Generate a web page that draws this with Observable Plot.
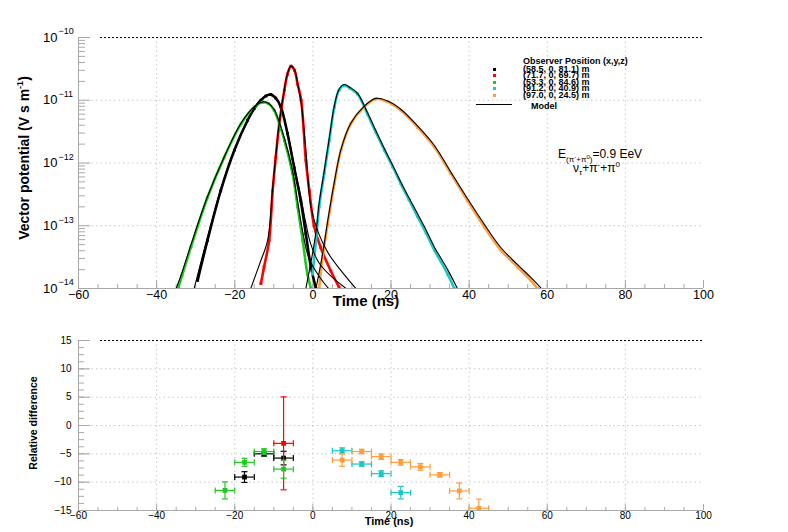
<!DOCTYPE html>
<html><head><meta charset="utf-8">
<script src="https://cdn.jsdelivr.net/npm/d3@7"></script>
<script src="https://cdn.jsdelivr.net/npm/@observablehq/plot@0.6"></script>
<style>
body{margin:0;background:#fff;font-family:"Liberation Sans",Arial,sans-serif;}
#wrap{position:relative;width:788px;height:532px;overflow:hidden;background:#fff;}
#wrap svg{position:absolute;left:0;}
.t{position:absolute;white-space:nowrap;color:#000;line-height:1;}
.b{font-weight:bold;}
.sq{position:absolute;width:3px;height:3px;}
</style></head><body><div id="wrap"></div>
<script>
// ---------- data: vector potential (time in ns, value in V s m^-1) ----------
const blackT = [-29.5,-27.0,-23.6,-20.1,-16.7,-15.0,-13.3,-12.0,-10.75,-9.5,-8.2,-6.5,-4.8,-3.1,-1.8,-0.5,0.8];
const blackV = [1.35e-14,5.8e-14,3.6e-13,1.6e-12,4.8e-12,7.4e-12,1.0e-11,1.17e-11,1.23e-11,1.08e-11,7.8e-12,2.95e-12,8.5e-13,2.5e-13,7.4e-14,2.2e-14,1.0e-14];
const redT = [-13.3,-12.5,-11.2,-10.3,-9.5,-8.6,-7.3,-6.5,-5.6,-4.7,-3.9,-3.0,-1.8,-0.9,0.3,2.0,4.6,6.7];
const redV = [1.2e-14,2.2e-14,5.8e-14,3.6e-13,1.23e-12,4.2e-12,1.45e-11,2.6e-11,3.5e-11,3.0e-11,1.8e-11,1.0e-11,1.1e-12,3.6e-13,1.0e-13,4.5e-14,1.9e-14,1.05e-14];
const greenT = [-34.5,-33.5,-31.2,-27.0,-22.7,-18.4,-15.0,-12.9,-11.3,-9.9,-7.3,-5.2,-3.9,-2.6,-1.4,-0.5];
const greenV = [1.0e-14,1.6e-14,4.6e-14,2.8e-13,1.23e-12,4.2e-12,7.8e-12,9.3e-12,8.8e-12,6.9e-12,2.3e-12,6.8e-13,2.0e-13,5.8e-14,1.7e-14,1.0e-14];
const cyanT = [-0.1,0.8,1.6,2.9,4.2,5.5,6.7,8.0,9.5,11.4,14.0,16.0,18.3,20.4,22.5,24.6,26.8,29.0,31.1,34.5,36.2];
const cyanV = [1.7e-14,5.8e-14,2.0e-13,6.8e-13,2.3e-12,7.8e-12,1.45e-11,1.73e-11,1.55e-11,1.26e-11,6.0e-12,3.2e-12,1.6e-12,8.8e-13,4.7e-13,2.6e-13,1.4e-13,7.6e-14,4.1e-14,1.7e-14,1.0e-14];
const orangeT = [1.6,2.5,3.8,5.5,7.2,9.7,13.1,16.1,19.0,22.5,26.8,31.1,35.3,39.6,43.9,48.1,52.4,55.8,57.5];
const orangeV = [1.0e-14,3.2e-14,1.07e-13,4.7e-13,1.6e-12,4.2e-12,7.8e-12,1.05e-11,9.5e-12,6.9e-12,3.7e-12,1.8e-12,6.8e-13,2.5e-13,9.5e-14,4.1e-14,2.2e-14,1.35e-14,1.0e-14];

// ---------- model curves ----------
const blackModelT = [-30.4,-27.0,-23.6,-20.1,-16.7,-15.0,-13.3,-12.0,-10.75,-9.5,-8.2,-6.5,-4.8,-3.1,-1.8,-0.5,1.5,4.5,8.5];
const blackModelV = [1.0e-14,6.5e-14,3.8e-13,1.65e-12,4.9e-12,7.5e-12,1.02e-11,1.19e-11,1.25e-11,1.1e-11,8.0e-12,3.1e-12,9.2e-13,2.9e-13,1.1e-13,5.0e-14,2.6e-14,1.6e-14,1.0e-14];
const redModelT = [-15.9,-13.5,-11.6,-10.3,-9.5,-8.6,-7.3,-6.5,-5.6,-4.7,-3.9,-3.0,-1.8,-0.5,1.5,4.0,7.0,11.0];
const redModelV = [1.0e-14,2.6e-14,5.8e-14,4.0e-13,1.3e-12,4.4e-12,1.5e-11,2.65e-11,3.5e-11,3.05e-11,1.85e-11,9.0e-12,1.6e-12,2.0e-13,7.5e-14,3.6e-14,2.0e-14,1.0e-14];
const greenModelT = [-35.0,-33.5,-31.2,-27.0,-22.7,-18.4,-15.0,-12.9,-11.3,-9.9,-7.3,-5.2,-3.9,-2.6,-1.0,1.5,4.0];
const greenModelV = [1.0e-14,1.8e-14,5.0e-14,2.9e-13,1.25e-12,4.3e-12,7.9e-12,9.4e-12,8.9e-12,7.1e-12,2.5e-12,7.5e-13,2.4e-13,8.0e-14,3.0e-14,1.6e-14,1.0e-14];
const cyanModelT = [-1.8,-0.5,0.8,1.6,2.9,4.2,5.5,6.7,8.0,9.5,11.4,14.0,16.0,18.3,20.4,22.5,24.6,26.8,29.0,31.1,34.5,37.0];
const cyanModelV = [1.0e-14,2.6e-14,8.0e-14,2.3e-13,7.5e-13,2.5e-12,8.2e-12,1.5e-11,1.78e-11,1.6e-11,1.3e-11,6.3e-12,3.4e-12,1.7e-12,9.3e-13,5.0e-13,2.8e-13,1.55e-13,8.5e-14,4.6e-14,2.0e-14,1.0e-14];
const orangeModelT = [0.8,2.5,3.8,5.5,7.2,9.7,13.1,16.1,19.0,22.5,26.8,31.1,35.3,39.6,43.9,48.1,52.4,55.8,58.5];
const orangeModelV = [1.0e-14,3.6e-14,1.2e-13,5.0e-13,1.65e-12,4.3e-12,8.0e-12,1.07e-11,9.8e-12,7.2e-12,3.9e-12,1.9e-12,7.2e-13,2.7e-13,1.05e-13,4.5e-14,2.4e-14,1.5e-14,1.0e-14];

// ---------- relative difference ----------
const binHalfWidth = 2.5;
const resBlackT = [-17.5,-12.5,-7.5];
const resBlackY = [-9.1,-5.0,-5.75];
const resBlackErr = [0.95,0.4,1.2];
const resRedT = [-7.5];
const resRedY = [-3.15];
const resRedErr = [8.2];
const resGreenT = [-22.5,-17.5,-12.5,-7.5];
const resGreenY = [-11.45,-6.5,-4.6,-7.7];
const resGreenErr = [1.5,0.7,0.5,1.6];
const resCyanT = [7.5,12.5,17.5,22.5];
const resCyanY = [-4.45,-6.8,-8.5,-11.85];
const resCyanErr = [0.5,0.4,0.5,1.1];
const resOrangeT = [7.5,12.5,17.5,22.5,27.5,32.5,37.5,42.5];
const resOrangeY = [-6.1,-4.6,-5.5,-6.5,-7.3,-8.7,-11.55,-14.6];
const resOrangeErr = [1.1,0.4,0.5,0.5,0.6,0.4,1.4,1.6];

// ---------- ticks ----------
const xMajor = [-60,-40,-20,0,20,40,60,80,100];
const xGrid = [-40,-20,0,20,40,60,80];
const xMinor = d3.range(-60,101,5);
const yDecades = [1e-14,1e-13,1e-12,1e-11,1e-10];
const yGrid = [1e-13,1e-12,1e-11];
const yMinor = [1e-14,1e-13,1e-12,1e-11].flatMap(d => [2,3,4,5,6,7,8,9].map(k => k*d));
const rMajor = [-15,-10,-5,0,5,10,15];
const rGrid = [-10,-5,0,5,10];
const rMinor = d3.range(-15,15.01,1.25);

const colors = {black:"#000000", red:"#ff0000", green:"#1fc81f", cyan:"#1cc6c6", orange:"#ff9d3c"};
const series = [
  ["black", blackT, blackV, blackModelT, blackModelV],
  ["red", redT, redV, redModelT, redModelV],
  ["green", greenT, greenV, greenModelT, greenModelV],
  ["cyan", cyanT, cyanV, cyanModelT, cyanModelV],
  ["orange", orangeT, orangeV, orangeModelT, orangeModelV]
];
const residuals = [
  ["black", resBlackT, resBlackY, resBlackErr],
  ["red", resRedT, resRedY, resRedErr],
  ["green", resGreenT, resGreenY, resGreenErr],
  ["cyan", resCyanT, resCyanY, resCyanErr],
  ["orange", resOrangeT, resOrangeY, resOrangeErr]
];
const zipTV = (T, V) => T.map((t, i) => ({t, v: V[i]}));
const fmt = d => d < 0 ? "\u2212" + (-d) : String(d);
const AX = "#a8a8a8", GR = "#c8c8c8";
const FONT = "Liberation Sans, Arial, sans-serif";

const W = 788, ML = 78, MR = 85;
const topH = 320, topMT = 37, topMB = 32, topPH = topH - topMT - topMB;

const topMarks = [
  Plot.ruleX(xGrid, {stroke: GR, strokeDasharray: "1.5,3"}),
  Plot.ruleY(yGrid, {stroke: GR, strokeDasharray: "1.5,3"}),
  Plot.ruleY([1e-10], {stroke: "#000", strokeDasharray: "2,2", insetLeft: 22}),
  Plot.ruleX([-60], {stroke: AX}),
  Plot.ruleY([1e-14], {stroke: AX}),
  Plot.tickY(yDecades, {stroke: AX, insetRight: (W - ML - MR) - 12}),
  Plot.tickY(yMinor, {stroke: AX, insetRight: (W - ML - MR) - 7}),
  Plot.tickX(xMajor, {stroke: AX, insetTop: topPH - 8}),
  Plot.tickX(xMinor, {stroke: AX, insetTop: topPH - 4}),
  Plot.text(yDecades, {y: d => d, frameAnchor: "left", dx: -21, text: () => "10", textAnchor: "end", fontSize: 13}),
  Plot.text(yDecades, {y: d => d, frameAnchor: "left", dx: -20, dy: -6, text: d => "\u2212" + (-Math.round(Math.log10(d))), textAnchor: "start", fontSize: 9}),
  Plot.text(xMajor, {x: d => d, frameAnchor: "bottom", dy: 10, text: fmt, fontSize: 12.5})
];
for (const [c, T, V] of series) {
  const rows = zipTV(T, V);
  topMarks.push(Plot.line(rows, {x: "t", y: "v", stroke: colors[c], strokeWidth: 2.6, curve: "catmull-rom", clip: true}));
  topMarks.push(Plot.dot(rows, {x: "t", y: "v", fill: colors[c], symbol: "square", r: 1.6, clip: true}));
}
for (const [c, , , MT, MV] of series) {
  topMarks.push(Plot.line(zipTV(MT, MV), {x: "t", y: "v", stroke: "#000", strokeWidth: 1.1, curve: "catmull-rom", clip: true}));
}

const topPlot = Plot.plot({
  width: W, height: topH, marginTop: topMT, marginBottom: topMB, marginLeft: ML, marginRight: MR,
  x: {domain: [-60, 100], axis: null},
  y: {type: "log", domain: [1e-14, 1e-10], axis: null},
  style: {fontFamily: FONT, background: "transparent", overflow: "visible"},
  marks: topMarks
});
topPlot.style.top = "0px";

// ---------- bottom panel ----------
const botH = 212, botMT = 20, botMB = 22, botPH = botH - botMT - botMB;
const vbar = {draw(ctx, size){ const r = Math.sqrt(size / Math.PI); ctx.moveTo(0, -r); ctx.lineTo(0, r); }};
const hbar = {draw(ctx, size){ const r = Math.sqrt(size / Math.PI); ctx.moveTo(-r, 0); ctx.lineTo(r, 0); }};
const botMarks = [
  Plot.ruleX(xGrid, {stroke: GR, strokeDasharray: "1.5,3"}),
  Plot.ruleY(rGrid, {stroke: GR, strokeDasharray: "1.5,3"}),
  Plot.ruleY([15], {stroke: "#000", strokeDasharray: "2,2", insetLeft: 22}),
  Plot.ruleX([-60], {stroke: AX}),
  Plot.ruleY([-15], {stroke: AX}),
  Plot.tickY(rMajor, {stroke: AX, insetRight: (W - ML - MR) - 12}),
  Plot.tickY(rMinor, {stroke: AX, insetRight: (W - ML - MR) - 6}),
  Plot.tickX(xMajor, {stroke: AX, insetTop: botPH - 6}),
  Plot.tickX(xMinor, {stroke: AX, insetTop: botPH - 3}),
  Plot.text(rMajor, {y: d => d, frameAnchor: "left", dx: -7, text: fmt, textAnchor: "end", fontSize: 10}),
  Plot.text(xMajor, {x: d => d, frameAnchor: "bottom", dy: 8, text: fmt, fontSize: 10})
];
for (const [c, T, Y, E] of residuals) {
  const rows = T.map((t, i) => ({t, y: Y[i], e: E[i]}));
  const col = colors[c];
  botMarks.push(
    Plot.ruleY(rows, {y: "y", x1: d => d.t - binHalfWidth, x2: d => d.t + binHalfWidth, stroke: col, strokeWidth: 1.2, clip: true}),
    Plot.ruleX(rows, {x: "t", y1: d => d.y - d.e, y2: d => d.y + d.e, stroke: col, strokeWidth: 1.2, clip: true}),
    Plot.dot(rows, {x: d => d.t - binHalfWidth, y: "y", symbol: vbar, r: 3, stroke: col, fill: "none", strokeWidth: 1.2, clip: true}),
    Plot.dot(rows, {x: d => d.t + binHalfWidth, y: "y", symbol: vbar, r: 3, stroke: col, fill: "none", strokeWidth: 1.2, clip: true}),
    Plot.dot(rows, {x: "t", y: d => d.y - d.e, symbol: hbar, r: 3, stroke: col, fill: "none", strokeWidth: 1.2, clip: true}),
    Plot.dot(rows, {x: "t", y: d => d.y + d.e, symbol: hbar, r: 3, stroke: col, fill: "none", strokeWidth: 1.2, clip: true}),
    Plot.dot(rows, {x: "t", y: "y", symbol: "square", r: 2.7, fill: col, clip: true})
  );
}
const botPlot = Plot.plot({
  width: W, height: botH, marginTop: botMT, marginBottom: botMB, marginLeft: ML, marginRight: MR,
  x: {domain: [-60, 100], axis: null},
  y: {domain: [-15, 15], axis: null},
  style: {fontFamily: FONT, background: "transparent", overflow: "visible"},
  marks: botMarks
});
botPlot.style.top = topH + "px";

const wrap = document.getElementById("wrap");
wrap.appendChild(topPlot);
wrap.appendChild(botPlot);

// ---------- titles, legend, annotation ----------
const legendLabels = ["(58.5, 0, 81.1) m","(71.7, 0, 69.7) m","(53.3, 0, 84.6) m","(91.2, 0, 40.9) m","(97.0, 0, 24.5) m"];
const legendColors = ["black","red","green","cyan","orange"];
let html = "";
html += `<div class="t b" style="left:23px;top:158px;font-size:14px;transform:translate(-50%,-50%) rotate(-90deg);">Vector potential (V s m<sup style="font-size:9px;vertical-align:6px">-1</sup>)</div>`;
html += `<div class="t b" style="left:366px;top:300px;font-size:15px;transform:translate(-50%,-50%);">Time (ns)</div>`;
html += `<div class="t b" style="left:389px;top:521px;font-size:11px;transform:translate(-50%,-50%);">Time (ns)</div>`;
html += `<div class="t b" style="left:33px;top:423px;font-size:10.5px;transform:translate(-50%,-50%) rotate(-90deg);">Relative difference</div>`;
html += `<div class="t b" style="left:523px;top:57px;font-size:9px;">Observer Position (x,y,z)</div>`;
legendLabels.forEach((lab, i) => {
  const y = 69 + i * 6.6;
  html += `<div class="t b" style="left:523px;top:${y - 4.5}px;font-size:9px;">${lab}</div>`;
  html += `<div class="sq" style="left:493px;top:${y - 1.5}px;background:${colors[legendColors[i]]}"></div>`;
});
html += `<div style="position:absolute;left:476px;top:104px;width:36px;height:1.3px;background:#000"></div>`;
html += `<div class="t b" style="left:531px;top:102px;font-size:9px;">Model</div>`;
html += `<div class="t" style="left:558px;top:148px;font-size:12px;">E<span style="font-size:8px;position:relative;top:4px">(\u03c0<span style="position:relative;top:-3px;font-size:6px">-</span>+\u03c0<span style="position:relative;top:-3px;font-size:6px">0</span>)</span>=0.9 EeV</div>`;
html += `<div class="t" style="left:573px;top:162px;font-size:12px;">\u03bd<span style="font-size:8px;position:relative;top:3px">\u03c4</span>+\u03c0<span style="font-size:8px;position:relative;top:-5px">-</span>+\u03c0<span style="font-size:8px;position:relative;top:-5px">0</span></div>`;
wrap.insertAdjacentHTML("beforeend", html);
</script>
</body></html>
